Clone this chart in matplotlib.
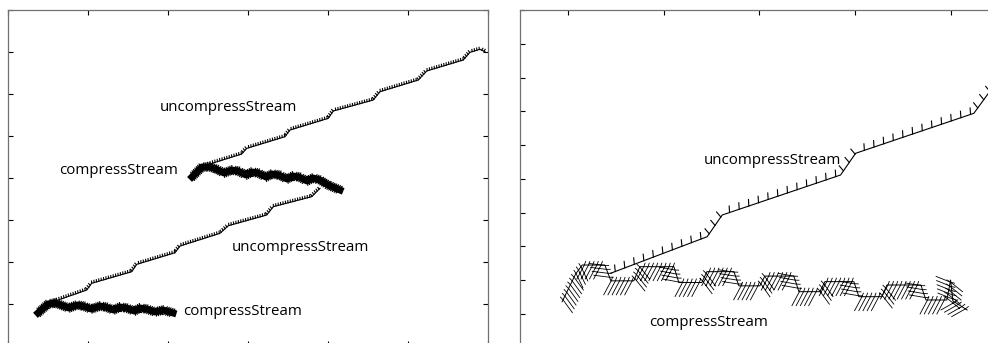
import numpy as np
import matplotlib
matplotlib.use("Agg")
import matplotlib.pyplot as plt
from matplotlib import patheffects as pe

plt.rcParams['font.family'] = ['Open Sans', 'DejaVu Sans']

# left run: two calls of each routine, time on x, stack position on y
left_unc1_x = [0.566, 0.984, 1.046, 1.546, 1.609, 2.0875, 2.15, 2.65, 2.754, 3.234, 3.316, 3.796, 3.9]
left_unc1_y = [1.055, 1.333, 1.493, 1.769, 1.945, 2.221, 2.381, 2.683, 2.864, 3.119, 3.317, 3.555, 3.755]
left_unc2_x = [2.484, 2.921, 2.984, 3.4625, 3.525, 4.004, 4.066, 4.566, 4.65, 5.129, 5.234, 5.691, 5.775, 5.9, 5.9625]
left_unc2_y = [4.31, 4.571, 4.706, 4.984, 5.143, 5.421, 5.595, 5.857, 6.055, 6.333, 6.548, 6.81, 6.993, 7.064, 7.007]

left_cmp1_x = [0.375, 0.5, 0.59, 0.66, 0.76, 0.86, 0.94, 1.04, 1.15, 1.22, 1.32, 1.40, 1.48, 1.58, 1.65,
               1.73, 1.84, 1.94, 2.063]
left_cmp1_y = [0.786, 1.0, 1.024, 0.976, 0.905, 0.976, 0.952, 0.881, 0.952, 0.929, 0.857, 0.929, 0.905,
               0.833, 0.905, 0.881, 0.810, 0.857, 0.786]
left_cmp2_x = [2.3, 2.425, 2.525, 2.6, 2.7, 2.8, 2.875, 2.975, 3.05, 3.125, 3.225, 3.3, 3.388, 3.488, 3.563,
               3.638, 3.738, 3.813, 3.9, 4.0, 4.15]
left_cmp2_y = [4.024, 4.262, 4.262, 4.214, 4.119, 4.190, 4.167, 4.071, 4.143, 4.119, 4.024, 4.095, 4.071,
               3.976, 4.048, 4.024, 3.929, 4.0, 3.952, 3.833, 3.714]

# right run: one call of each routine
right_unc_x = [1.446, 2.455, 2.612, 3.848, 4.005, 5.240, 5.379, 5.50]
right_unc_y = [2.199, 3.283, 3.926, 5.111, 5.754, 6.939, 7.481, 7.95]

right_cmp_x = [0.940, 1.080, 1.150, 1.386, 1.449, 1.689, 1.752, 2.107, 2.159, 2.399, 2.452, 2.734, 2.786,
               3.005, 3.057, 3.360, 3.413, 3.632, 3.684, 3.987, 4.039, 4.279, 4.332, 4.687, 4.739,
               4.958, 4.997, 5.021, 5.170]
right_cmp_y = [1.357, 2.173, 2.444, 2.444, 1.975, 1.975, 2.395, 2.395, 1.926, 1.926, 2.247, 2.247, 1.827,
               1.827, 2.116, 2.116, 1.654, 1.654, 1.951, 1.951, 1.506, 1.506, 1.852, 1.852, 1.408,
               1.408, 2.0, 1.380, 1.111]

left_labels = [("uncompressStream", 1.9, 5.667), ("compressStream", 0.6375, 4.19),
               ("uncompressStream", 2.8, 2.357), ("compressStream", 2.1875, 0.81)]
right_labels = [("uncompressStream", 2.42, 5.526), ("compressStream", 1.846, 0.726)]

W, H = 988, 343
fig = plt.figure(figsize=(W / 100, H / 100), dpi=100)
ax1 = fig.add_axes([8 / W, 1 - 346 / H, 480 / W, 336 / H])
ax2 = fig.add_axes([520 / W, 1 - 347.5 / H, 478.75 / W, 337.5 / H])


def style_axes(ax):
    for s in ax.spines.values():
        s.set_color('#707070')
        s.set_linewidth(0.9)
    ax.tick_params(direction='in', length=3.5, width=0.8, color='black',
                   top=True, right=True, labelbottom=False, labelleft=False)


ax1.set_xlim(0, 6)
ax1.set_ylim(0, 8)
ax1.set_xticks(np.arange(0, 7))
ax1.set_yticks(np.arange(0, 9))
style_axes(ax1)

ax2.set_xlim(0.5, 5.5)
ax2.set_ylim(0, 10)
ax2.set_xticks(np.arange(1, 6))
ax2.set_yticks(np.arange(0, 11))
style_axes(ax2)

# uncompress lines: thin stair-steps with small teeth
fine_teeth = [pe.withTickedStroke(spacing=1.8, angle=80, length=0.9)]
for xs, ys in [(left_unc1_x, left_unc1_y), (left_unc2_x, left_unc2_y)]:
    ln, = ax1.plot(xs, ys, color='black', lw=0.8)
    ln.set_path_effects(fine_teeth)

# compress: dense thick band
blob = [pe.Stroke(linewidth=5.0, foreground='black'),
        pe.TickedStroke(spacing=1.4, angle=70, length=2.3, linewidth=0.8),
        pe.TickedStroke(spacing=1.4, angle=-110, length=2.3, linewidth=0.8)]
for xs, ys in [(left_cmp1_x, left_cmp1_y), (left_cmp2_x, left_cmp2_y)]:
    ln, = ax1.plot(xs, ys, color='black', lw=5.0, solid_joinstyle='round')
    ln.set_path_effects(blob)

ln, = ax2.plot(right_unc_x, right_unc_y, color='black', lw=0.8)
ln.set_path_effects([pe.withTickedStroke(spacing=7.2, angle=75, length=0.65, linewidth=0.8)])

# compress on the right: loops hanging under the trace
ln, = ax2.plot(right_cmp_x, right_cmp_y, color='black', lw=0.7)
ln.set_path_effects([pe.withTickedStroke(spacing=3.0, angle=-118, length=3.8, linewidth=0.6),
                     pe.TickedStroke(spacing=3.0, angle=70, length=0.9, linewidth=0.6)])

for txt, x, y in left_labels:
    ax1.text(x, y, txt, fontsize=10.8, ha='left', va='center')
for txt, x, y in right_labels:
    ax2.text(x, y, txt, fontsize=10.8, ha='left', va='center')

fig.savefig('out.png', dpi=100)
